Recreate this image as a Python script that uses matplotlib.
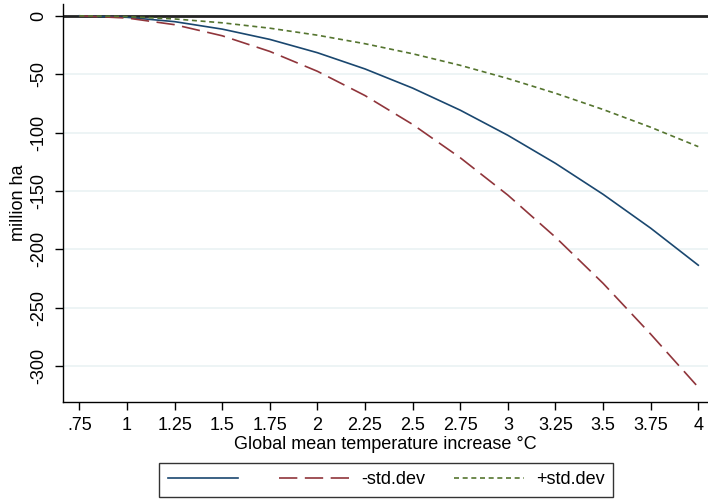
import matplotlib.pyplot as plt
from matplotlib.lines import Line2D

plt.rcParams['font.family'] = ['Liberation Sans', 'DejaVu Sans']

# warming levels (deg C) and change in area (million ha)
temp = [0.75, 1.0, 1.25, 1.5, 1.75, 2.0, 2.25, 2.5, 2.75, 3.0, 3.25, 3.5, 3.75, 4.0]
mean_area = [0, -1.3, -5.0, -11.4, -20.2, -31.6, -45.5, -61.9, -80.8, -102.3,
             -126.3, -152.8, -181.8, -213.5]
minus_sd = [0, -1.9, -7.6, -17.1, -30.5, -47.5, -68.3, -93.0, -121.5, -153.5,
            -189.5, -229.0, -272.5, -318.0]
plus_sd = [0, -0.7, -2.7, -6.0, -10.6, -16.6, -23.9, -32.5, -42.4, -53.7,
           -66.3, -80.2, -95.4, -112.0]

xticks = [0.75, 1, 1.25, 1.5, 1.75, 2, 2.25, 2.5, 2.75, 3, 3.25, 3.5, 3.75, 4]
xlabels = ['.75', '1', '1.25', '1.5', '1.75', '2', '2.25', '2.5', '2.75', '3',
           '3.25', '3.5', '3.75', '4']
yticks = [0, -50, -100, -150, -200, -250, -300]
legend_labels = ['', '-std.dev', '+std.dev']

fs = 13
fig = plt.figure(figsize=(7.08, 5.0), dpi=100)
ax = fig.add_axes([63/708, 98/500, 645/708, 398/500])

for y in yticks[1:]:
    ax.axhline(y, color='#eaf2f3', lw=1.2, zorder=0)
ax.axhline(0, color='#222222', lw=2, zorder=1)

l1, = ax.plot(temp, mean_area, color='#1a476f', lw=1.2)
l2, = ax.plot(temp, minus_sd, color='#90353b', lw=1.2, dashes=(11, 4.5))
l3, = ax.plot(temp, plus_sd, color='#55752f', lw=1.2, dashes=(3, 2.2))

ax.set_xlim(0.664, 4.051)
ax.set_ylim(-330.6, 10.1)
ax.set_xticks(xticks)
ax.set_xticklabels(xlabels)
ax.set_yticks(yticks)
ax.set_yticklabels([str(v) for v in yticks], rotation=90, va='center')
ax.tick_params(direction='out', length=6, width=1, labelsize=fs, color='black')
ax.tick_params(axis='x', pad=5)
ax.tick_params(axis='y', pad=5)

for side in ['top', 'right']:
    ax.spines[side].set_visible(False)
for side in ['left', 'bottom']:
    ax.spines[side].set_linewidth(1.0)

ax.set_xlabel('Global mean temperature increase °C', fontsize=fs, labelpad=1)
ax.set_ylabel('million ha', fontsize=fs, labelpad=3)

handles = [Line2D([], [], color='#1a476f', lw=1.2),
           Line2D([], [], color='#90353b', lw=1.2, dashes=(11, 4.5)),
           Line2D([], [], color='#55752f', lw=1.2, dashes=(3, 2.2))]
leg = fig.legend(handles, legend_labels, loc='center',
                 bbox_to_anchor=(386/708, 1 - 480/500), ncol=3,
                 fontsize=fs, frameon=True, fancybox=False, edgecolor='black',
                 handlelength=3.9, handletextpad=0.65, columnspacing=1.6,
                 borderpad=0.45)
leg.get_frame().set_linewidth(1.0)

fig.savefig('out.png', dpi=100, facecolor='white')
